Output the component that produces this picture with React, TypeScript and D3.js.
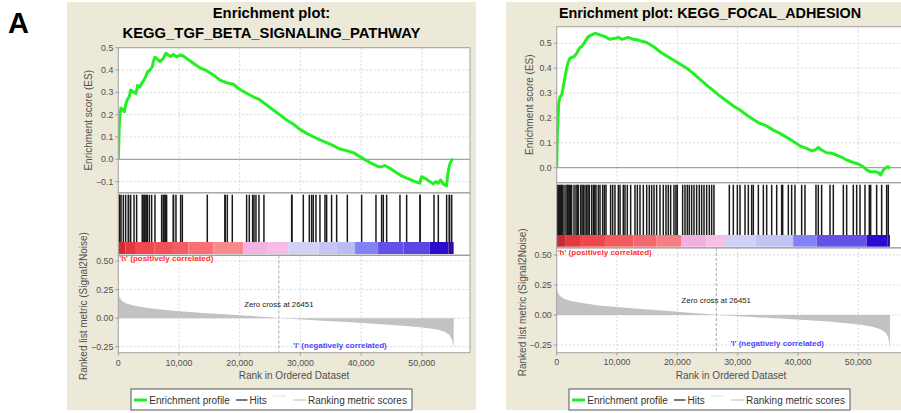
import React from "react";
import * as d3 from "d3";

// ---------- data ----------
const listSize = 55250;
const zeroCross = 26451;

const rankTicks = [0, 10000, 20000, 30000, 40000, 50000];
const metricTicks = [-0.25, 0, 0.25, 0.5];
const tgfEsTicks = [-0.1, 0, 0.1, 0.2, 0.3, 0.4, 0.5];
const focalEsTicks = [0, 0.1, 0.2, 0.3, 0.4, 0.5];

const legendLabels = ["Enrichment profile", "Hits", "Ranking metric scores"];

// running enrichment score, KEGG_TGF_BETA_SIGNALING_PATHWAY
const tgfProfile: [number, number][] = [
  [0, 0], [55, 0.042], [165, 0.16], [275, 0.2], [440, 0.23], [820, 0.22], [990, 0.213],
  [1260, 0.25], [1540, 0.27], [1810, 0.28], [2030, 0.31], [2580, 0.3], [2910, 0.295],
  [3180, 0.33], [3570, 0.325], [3840, 0.34], [4230, 0.355], [4560, 0.373], [4780, 0.39],
  [5220, 0.4], [5600, 0.415], [5760, 0.437], [6040, 0.457], [6480, 0.448], [6860, 0.437],
  [7410, 0.452], [7850, 0.475], [8240, 0.467], [8620, 0.46], [9060, 0.47], [9610, 0.46],
  [10160, 0.467], [10710, 0.463], [11250, 0.452], [12350, 0.43], [13450, 0.41],
  [14550, 0.397], [15650, 0.378], [16740, 0.355], [17840, 0.343], [18940, 0.336],
  [20040, 0.313], [21140, 0.296], [22230, 0.28], [23330, 0.266], [24430, 0.243],
  [25530, 0.221], [26630, 0.199], [27720, 0.176], [28820, 0.158], [29920, 0.134],
  [31020, 0.116], [32120, 0.101], [33210, 0.087], [34310, 0.075], [35410, 0.061],
  [36510, 0.046], [37610, 0.039], [38700, 0.03], [39800, 0.012], [40900, -0.006],
  [42000, -0.022], [42820, -0.033], [43370, -0.033], [43920, -0.028], [44740, -0.04],
  [45840, -0.06], [46940, -0.078], [48040, -0.09], [48860, -0.1], [49680, -0.107],
  [49960, -0.078], [50510, -0.085], [51330, -0.1], [51880, -0.11], [52320, -0.1],
  [52700, -0.107], [53090, -0.093], [53530, -0.11], [54080, -0.119], [54240, -0.078],
  [54400, -0.048], [54620, -0.021], [54900, -0.003], [55170, 0],
];

const tgfHits: number[] = [
  170, 230, 445, 830, 1210, 1650, 1700, 2040, 2590, 3020, 3960, 4000, 4230, 4280, 4560,
  4600, 4780, 5110, 5490, 6040, 7140, 7420, 7460, 7690, 7730, 7960, 9060, 9100, 9500,
  10270, 10550, 14660, 17570, 17610, 17960, 18780, 21140, 21580, 22130, 22350, 22680,
  23170, 23990, 28560, 28600, 30480, 31470, 31850, 32120, 32560, 33220, 34050, 34320,
  35140, 35970, 37730, 40090, 42450, 43380, 43660, 44210, 46400, 47500, 49700, 49740,
  52010, 52720, 54090, 54530, 54570, 54920,
];

const tgfMetric: [number, number][] = [
  [0, 0.23], [150, 0.19], [500, 0.155], [1200, 0.13], [2500, 0.11], [4500, 0.09],
  [7000, 0.075], [10000, 0.06], [14000, 0.045], [18000, 0.032], [22000, 0.018],
  [25000, 0.007], [26451, 0], [29000, -0.008], [33000, -0.02], [37000, -0.032],
  [41000, -0.045], [45000, -0.06], [48000, -0.072], [50500, -0.085], [52500, -0.1],
  [53800, -0.12], [54600, -0.15], [55000, -0.19], [55250, -0.26],
];

const tgfBar: [number, string][] = [
  [0, "#d42a30"], [1200, "#e03a40"], [2750, "#ef4a50"], [6000, "#f25257"], [9000, "#f45e62"],
  [11550, "#f87076"], [15650, "#f98a8c"], [20600, "#f4b2e2"], [24500, "#f6bce6"],
  [28000, "#d2d2f8"], [33000, "#c6c6f6"], [36000, "#bcbcf4"], [39000, "#8282f4"],
  [42800, "#6450e6"], [47000, "#5a46e2"], [51300, "#2a0ccc"], [54400, "#3a0898"],
];

// running enrichment score, KEGG_FOCAL_ADHESION
const focalProfile: [number, number][] = [
  [0, 0], [110, 0.138], [220, 0.19], [330, 0.26], [550, 0.285], [830, 0.292], [1100, 0.326],
  [1380, 0.366], [1660, 0.4], [1930, 0.426], [2210, 0.44], [2490, 0.444], [2870, 0.446],
  [3320, 0.46], [3760, 0.48], [4140, 0.487], [4530, 0.5], [4860, 0.513], [5250, 0.527],
  [5800, 0.534], [6350, 0.54], [6740, 0.538], [7180, 0.534], [8010, 0.527], [8840, 0.516],
  [9670, 0.52], [10220, 0.524], [10770, 0.516], [11330, 0.52], [11880, 0.524],
  [12710, 0.516], [13540, 0.513], [14250, 0.507], [14920, 0.503], [16020, 0.487],
  [17130, 0.466], [18230, 0.449], [19340, 0.433], [20440, 0.417], [21550, 0.4],
  [22650, 0.379], [23760, 0.355], [24860, 0.332], [25970, 0.31], [27070, 0.288],
  [28180, 0.268], [29280, 0.248], [30390, 0.232], [31490, 0.212], [32600, 0.194],
  [33700, 0.178], [34810, 0.168], [35910, 0.151], [37020, 0.138], [38120, 0.122],
  [39230, 0.105], [40330, 0.088], [41440, 0.078], [42270, 0.068], [42820, 0.071],
  [43370, 0.082], [43920, 0.071], [44750, 0.06], [45580, 0.058], [46410, 0.051],
  [47240, 0.042], [48070, 0.031], [49170, 0.021], [50000, 0.015], [50830, 0.004],
  [51380, -0.009], [51940, -0.016], [52760, -0.016], [53320, -0.02], [53700, -0.029],
  [54150, -0.009], [54590, 0], [54970, 0.004], [55250, -0.003],
];

const focalHits: number[] = [
  120, 270, 440, 660, 800, 930, 1210, 1540, 1760, 1900, 2090, 2300, 2480, 2870, 3200, 3400,
  3590, 3970, 4200, 4410, 4690, 4970, 5200, 5410, 5800, 6080, 6300, 6510, 6900, 7180,
  7620, 7900, 8170, 8940, 9280, 9660, 10220, 10500, 11040, 11320, 11710, 12260, 12980,
  13370, 13810, 14360, 14920, 15350, 15740, 16130, 16570, 17120, 17670, 18120, 18500,
  18890, 19440, 19770, 19990, 20880, 21270, 21650, 21980, 22370, 22760, 23200, 23640,
  24030, 24420, 24860, 25300, 25690, 26070, 28620, 29280, 29950, 30390, 31220, 31770,
  32320, 32600, 33430, 34260, 34810, 35640, 36470, 37290, 37460, 38400, 38950, 39500,
  40610, 41160, 42980, 43370, 43920, 45310, 45860, 47520, 48070, 49170, 49730, 50280,
  51110, 51820, 52050, 53040, 53870, 54700, 54970,
];

const focalMetric: [number, number][] = [
  [0, 0.235], [150, 0.19], [500, 0.16], [1200, 0.135], [2500, 0.115], [4500, 0.097],
  [7000, 0.08], [10000, 0.066], [13000, 0.055], [17000, 0.04], [21000, 0.022],
  [25000, 0.008], [26451, 0], [29000, -0.007], [33000, -0.018], [37000, -0.03],
  [41000, -0.042], [45000, -0.055], [48000, -0.068], [50500, -0.082], [52500, -0.1],
  [53800, -0.12], [54600, -0.15], [55000, -0.19], [55250, -0.27],
];

const focalBar: [number, string][] = [
  [0, "#c82a30"], [1500, "#de3a40"], [3860, "#f0474d"], [8000, "#f45a5e"], [12700, "#f26a70"],
  [16500, "#f47e82"], [20700, "#f2b0e0"], [24800, "#f6bfe6"], [27900, "#d0d0f8"],
  [33000, "#c4c4f4"], [39200, "#8282f4"], [43100, "#6451e8"], [51400, "#2a0cd0"],
  [54800, "#3a0a9a"],
];

// ---------- drawing ----------
const FONT = "'Liberation Sans', Arial, Helvetica, sans-serif";
const GRID = "#d6d6d6";
const FRAME = "#a0a0a0";
const TEXT = "#505050";

type Layout = {
  px: number; pw: number;
  x0: number; x1: number; x50k: number;
  esTop: number; esBot: number; esZeroY: number; esHalfY: number;
  barTop: number; barBot: number;
  rankTop: number; rankBot: number; rankHalfY: number; rankNegY: number;
  yLabelX: number; rankLabelX: number; tickY: number; axisTitleY: number; axisTitleX: number;
  titleLines: string[]; titleY: number[]; titleSize: number; titleX: number;
  legendX: number;
};

type PanelProps = {
  layout: Layout;
  profile: [number, number][];
  hits: number[];
  metric: [number, number][];
  bar: [number, string][];
  esTicks: number[];
};

function Panel({ layout: L, profile, hits, metric, bar, esTicks }: PanelProps) {
  const x = d3.scaleLinear().domain([0, 50000]).range([L.x0, L.x50k]);
  const yEs = d3.scaleLinear().domain([0, 0.5]).range([L.esZeroY, L.esHalfY]);
  const yRank = d3.scaleLinear().domain([-0.25, 0.5]).range([L.rankNegY, L.rankHalfY]);

  const esLine = d3.line<[number, number]>().x((d) => x(d[0])).y((d) => yEs(d[1]));
  const metricArea = d3
    .area<[number, number]>()
    .x((d) => x(d[0]))
    .y0(yRank(0))
    .y1((d) => yRank(d[1]));

  const fmtRank = d3.format(",");
  const fmtEs = (v: number) => (Math.abs(v) < 1e-9 ? "0.0" : d3.format(".1f")(v));
  const fmtMetric = (v: number) => (Math.abs(v) < 1e-9 ? "0.00" : d3.format(".2f")(v));

  const clipId = `clip-${L.px}`;
  const lg = L.legendX;
  const ly = 400;

  return (
    <g>
      <rect x={L.px} y={2} width={L.pw} height={408} fill="#ECE9D8" />

      {L.titleLines.map((t, i) => (
        <text key={t} x={L.titleX} y={L.titleY[i]} textAnchor="middle" dominantBaseline="central"
          fontFamily={FONT} fontWeight="bold" fontSize={L.titleSize} fill="#000">{t}</text>
      ))}

      <clipPath id={clipId}>
        <rect x={L.x0} y={L.esTop} width={L.x1 - L.x0} height={L.rankBot - L.esTop} />
      </clipPath>

      {/* plot backgrounds */}
      <rect x={L.x0} y={L.esTop} width={L.x1 - L.x0} height={L.rankBot - L.esTop} fill="#fff" />

      {/* enrichment score grid */}
      {esTicks.filter((t) => Math.abs(t) > 1e-9).map((t) => (
        <line key={`eg${t}`} x1={L.x0} x2={L.x1} y1={yEs(t)} y2={yEs(t)} stroke={GRID} strokeDasharray="2,2" />
      ))}
      {rankTicks.slice(1).map((t) => (
        <line key={`ev${t}`} x1={x(t)} x2={x(t)} y1={L.esTop} y2={L.esBot} stroke={GRID} strokeDasharray="2,2" />
      ))}
      <line x1={L.x0} x2={L.x1} y1={yEs(0)} y2={yEs(0)} stroke="#8c8c8c" />

      {/* ranked metric grid */}
      {metricTicks.map((t) => (
        <line key={`rg${t}`} x1={L.x0} x2={L.x1} y1={yRank(t)} y2={yRank(t)} stroke={GRID} strokeDasharray="2,2" />
      ))}
      {rankTicks.slice(1).map((t) => (
        <line key={`rv${t}`} x1={x(t)} x2={x(t)} y1={L.rankTop} y2={L.rankBot} stroke={GRID} strokeDasharray="2,2" />
      ))}

      <g clipPath={`url(#${clipId})`}>
        {/* ranked list metric */}
        <path d={metricArea(metric) ?? ""} fill="#c2c2c2" />
        <line x1={x(zeroCross)} x2={x(zeroCross)} y1={L.rankTop} y2={L.rankBot} stroke="#a8a8a8" strokeDasharray="3,2" />

        {/* colour bar of the ranked list */}
        {bar.map(([start, color], i) => {
          const end = i + 1 < bar.length ? bar[i + 1][0] : listSize;
          return (
            <rect key={`b${start}`} x={x(start)} y={L.barTop} width={x(end) - x(start)}
              height={L.barBot - L.barTop} fill={color} />
          );
        })}

        {/* hits */}
        {hits.map((h, i) => (
          <line key={`h${i}`} x1={x(h)} x2={x(h)} y1={L.esBot + 2} y2={L.barTop} stroke="#1a1a1a" strokeWidth={1.5} />
        ))}

        {/* enrichment profile */}
        <path d={esLine(profile) ?? ""} fill="none" stroke="#22f022" strokeWidth={3} strokeLinejoin="round" />
      </g>

      {/* frames */}
      <rect x={L.x0} y={L.esTop} width={L.x1 - L.x0} height={L.esBot - L.esTop} fill="none" stroke={FRAME} />
      <rect x={L.x0} y={L.esBot} width={L.x1 - L.x0} height={L.barBot + 1 - L.esBot} fill="none" stroke={FRAME} />
      <rect x={L.x0} y={L.rankTop} width={L.x1 - L.x0} height={L.rankBot - L.rankTop} fill="none" stroke={FRAME} />

      {/* y axes */}
      {esTicks.map((t) => (
        <g key={`et${t}`}>
          <line x1={L.x0 - 3} x2={L.x0} y1={yEs(t)} y2={yEs(t)} stroke={FRAME} />
          <text x={L.x0 - 5} y={yEs(t)} textAnchor="end" dominantBaseline="central"
            fontFamily={FONT} fontSize={8.8} fill={TEXT}>{fmtEs(t)}</text>
        </g>
      ))}
      {metricTicks.map((t) => (
        <g key={`mt${t}`}>
          <line x1={L.x0 - 3} x2={L.x0} y1={yRank(t)} y2={yRank(t)} stroke={FRAME} />
          <text x={L.x0 - 5} y={yRank(t)} textAnchor="end" dominantBaseline="central"
            fontFamily={FONT} fontSize={8.8} fill={TEXT}>{fmtMetric(t)}</text>
        </g>
      ))}

      {/* x axis */}
      {rankTicks.map((t) => (
        <g key={`xt${t}`}>
          <line x1={x(t)} x2={x(t)} y1={L.rankBot} y2={L.rankBot + 3} stroke={FRAME} />
          <text x={x(t)} y={L.tickY} textAnchor="middle" dominantBaseline="central"
            fontFamily={FONT} fontSize={8.8} fill={TEXT}>{fmtRank(t)}</text>
        </g>
      ))}
      <text x={L.axisTitleX} y={L.axisTitleY} textAnchor="middle" dominantBaseline="central"
        fontFamily={FONT} fontSize={10} fill={TEXT}>Rank in Ordered Dataset</text>

      <text transform={`translate(${L.yLabelX},${(L.esTop + L.esBot) / 2}) rotate(-90)`} textAnchor="middle"
        dominantBaseline="central" fontFamily={FONT} fontSize={10} fill={TEXT}>Enrichment score (ES)</text>
      <text transform={`translate(${L.rankLabelX},${(L.rankTop + L.rankBot) / 2 + 2}) rotate(-90)`} textAnchor="middle"
        dominantBaseline="central" fontFamily={FONT} fontSize={10} fill={TEXT}>Ranked list metric (Signal2Noise)</text>

      {/* annotations */}
      <text x={L.x0 + 1} y={yRank(0.52)} dominantBaseline="central" fontFamily={FONT} fontWeight="bold"
        fontSize={8} fill="#ff3030">'h' (positively correlated)</text>
      <text x={x(28800)} y={yRank(-0.24)} dominantBaseline="central" fontFamily={FONT} fontWeight="bold"
        fontSize={8} fill="#4646ff">'l' (negatively correlated)</text>
      <text x={x(zeroCross)} y={yRank(0.12)} textAnchor="middle" dominantBaseline="central" fontFamily={FONT}
        fontSize={7.8} fill="#222">Zero cross at {zeroCross}</text>

      {/* legend */}
      <rect x={lg} y={389} width={281} height={21} fill="#fff" stroke="#555" />
      <line x1={lg + 3} x2={lg + 16} y1={ly} y2={ly} stroke="#22f022" strokeWidth={3} />
      <text x={lg + 18.3} y={ly} dominantBaseline="central" fontFamily={FONT} fontSize={10} fill="#333">{legendLabels[0]}</text>
      <line x1={lg + 105} x2={lg + 116.5} y1={ly} y2={ly} stroke="#222" strokeWidth={1.2} />
      <text x={lg + 118.5} y={ly} dominantBaseline="central" fontFamily={FONT} fontSize={10} fill="#333">{legendLabels[1]}</text>
      <line x1={lg + 142} x2={lg + 155} y1={ly - 4} y2={ly - 4} stroke="#e2e2e2" strokeWidth={1} />
      <line x1={lg + 162} x2={lg + 175.5} y1={ly} y2={ly} stroke="#c8c8c8" strokeWidth={1.2} />
      <text x={lg + 177} y={ly} dominantBaseline="central" fontFamily={FONT} fontSize={10} fill="#333">{legendLabels[2]}</text>
    </g>
  );
}

const tgfLayout: Layout = {
  px: 67, pw: 409,
  x0: 118.3, x1: 470, x50k: 421.8,
  esTop: 47.7, esBot: 192.8, esZeroY: 159.3, esHalfY: 47.7,
  barTop: 242, barBot: 254,
  rankTop: 255.5, rankBot: 352.7, rankHalfY: 261, rankNegY: 346.7,
  yLabelX: 88, rankLabelX: 83, tickY: 362.7, axisTitleY: 375.7, axisTitleX: 294,
  titleLines: ["Enrichment plot:", "KEGG_TGF_BETA_SIGNALING_PATHWAY"], titleY: [13, 33], titleSize: 14.8, titleX: 271.5,
  legendX: 131,
};

const focalLayout: Layout = {
  px: 506, pw: 409,
  x0: 556.7, x1: 906, x50k: 858.3,
  esTop: 26.7, esBot: 182.7, esZeroY: 167.7, esHalfY: 43.3,
  barTop: 235, barBot: 246.7,
  rankTop: 248, rankBot: 352.7, rankHalfY: 255, rankNegY: 345,
  yLabelX: 529, rankLabelX: 522, tickY: 361.7, axisTitleY: 375, axisTitleX: 731,
  titleLines: ["Enrichment plot: KEGG_FOCAL_ADHESION"], titleY: [12.7], titleSize: 14.4, titleX: 710,
  legendX: 569,
};

export default function App() {
  return (
    <svg width={901} height={413} style={{ position: "absolute", left: 0, top: 0, background: "#fff" }}>
      <text x={8} y={33} fontFamily={FONT} fontWeight="bold" fontSize={29} fill="#000">A</text>
      <Panel layout={tgfLayout} profile={tgfProfile} hits={tgfHits} metric={tgfMetric} bar={tgfBar} esTicks={tgfEsTicks} />
      <Panel layout={focalLayout} profile={focalProfile} hits={focalHits} metric={focalMetric} bar={focalBar} esTicks={focalEsTicks} />
    </svg>
  );
}
